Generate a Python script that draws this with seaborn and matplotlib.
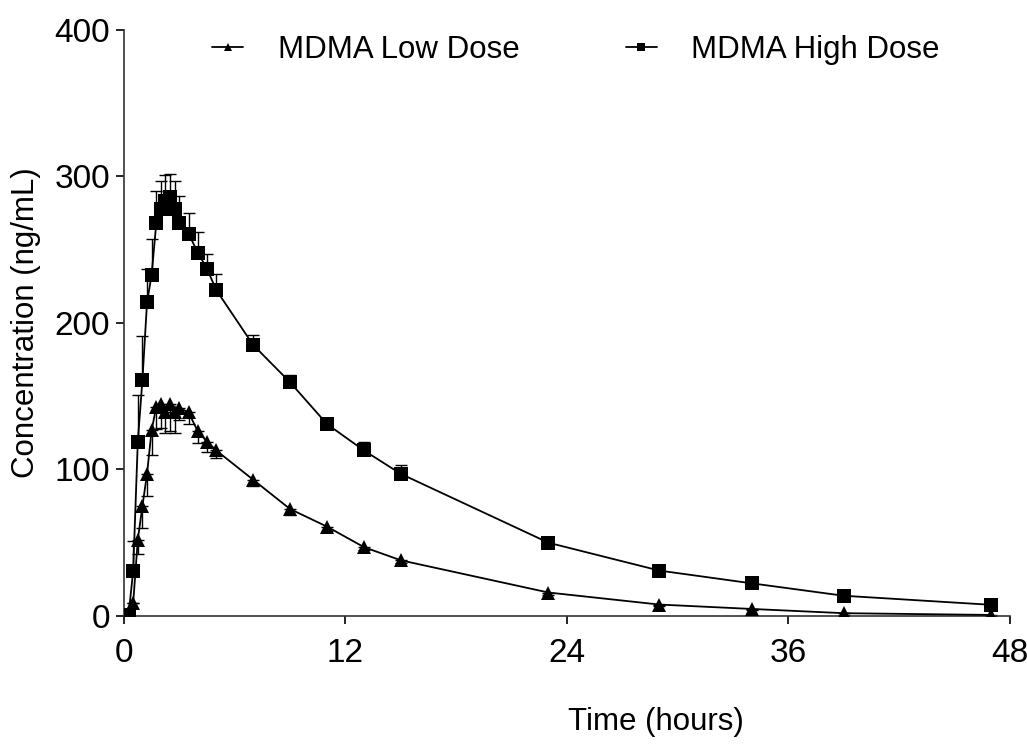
import numpy as np
import pandas as pd
import matplotlib
matplotlib.use("Agg")
import matplotlib.pyplot as plt
import seaborn as sns

# Sampling times (hours)
time_h = [0.25, 0.5, 0.75, 1, 1.25, 1.5, 1.75, 2, 2.25, 2.5, 2.75, 3, 3.5, 4, 4.5, 5,
          7, 9, 11, 13, 15, 23, 29, 34, 39, 47]

# Mean plasma concentration (ng/mL) and SEM
low_dose = [0.5, 9, 52, 75, 97, 127, 142.5, 145, 139, 144.5, 139, 142, 139, 126, 119, 113,
            93, 73, 61, 47, 38, 16, 7.8, 4.8, 1.9, 0.7]
low_sem = [0, 0, 10, 15, 15, 17, 15, 17, 14, 18, 14, 8, 8, 8, 7, 5,
           4, 4, 3, 2, 2, 2, 1, 1, 1, 1]
high_dose = [0.5, 31, 119, 161, 214, 233, 268, 278, 283, 286, 278, 268, 261, 248, 237, 222.5,
             185, 159.5, 131, 113, 97, 50, 31, 22.3, 13.8, 7.6]
high_sem = [0, 20, 32, 30, 23, 24, 22, 19, 18, 16, 19, 19, 14, 14, 10, 11,
            7, 5, 2, 5.5, 6, 4, 2, 1, 1, 1]

series_names = ["MDMA Low Dose", "MDMA High Dose"]

df = pd.concat([
    pd.DataFrame({"time": time_h, "conc": low_dose, "group": series_names[0]}),
    pd.DataFrame({"time": time_h, "conc": high_dose, "group": series_names[1]}),
])

sns.set_style("ticks")
plt.rcParams["font.family"] = ["Liberation Sans", "DejaVu Sans"]
plt.rcParams["text.color"] = "black"
plt.rcParams["axes.labelcolor"] = "black"

fig = plt.figure(figsize=(10.27, 7.5), dpi=100)
ax = fig.add_axes([0.1207, 0.1787, 0.8627, 0.7813])

# one-sided error bars: low dose downward, high dose upward
ax.errorbar(time_h, low_dose, yerr=[low_sem, np.zeros(len(low_sem))], fmt="none",
            ecolor="black", elinewidth=1.0, capsize=4, capthick=1.0, zorder=2)
ax.errorbar(time_h, high_dose, yerr=[np.zeros(len(high_sem)), high_sem], fmt="none",
            ecolor="black", elinewidth=1.0, capsize=4, capthick=1.0, zorder=2)

sns.lineplot(
    data=df, x="time", y="conc", hue="group", style="group",
    palette=["black", "black"], markers=["^", "s"], dashes=False,
    markersize=9.5, markeredgewidth=0, linewidth=1.3, ax=ax, zorder=3,
)

ax.set_xlim(0, 48)
ax.set_ylim(0, 400)
ax.set_xticks([0, 12, 24, 36, 48])
ax.set_yticks([0, 100, 200, 300, 400])
ax.tick_params(axis="both", labelsize=24, length=6, width=1.2, colors="black")
ax.tick_params(axis="x", pad=10)
ax.tick_params(axis="y", pad=4)
for side in ["left", "bottom"]:
    ax.spines[side].set_linewidth(1.2)
    ax.spines[side].set_color("#333333")
sns.despine(ax=ax)

ax.set_xlabel("Time (hours)", fontsize=22.5)
ax.xaxis.set_label_coords(0.60, -0.155)
ax.set_ylabel("Concentration (ng/mL)", fontsize=22.5, labelpad=10)

leg = ax.legend(loc="upper center", bbox_to_anchor=(0.51, 1.04), ncol=2, frameon=False,
                fontsize=22.5, markerscale=0.6, handlelength=1.0, handletextpad=1.1,
                columnspacing=3.4)

fig.savefig("out.png", dpi=100)
